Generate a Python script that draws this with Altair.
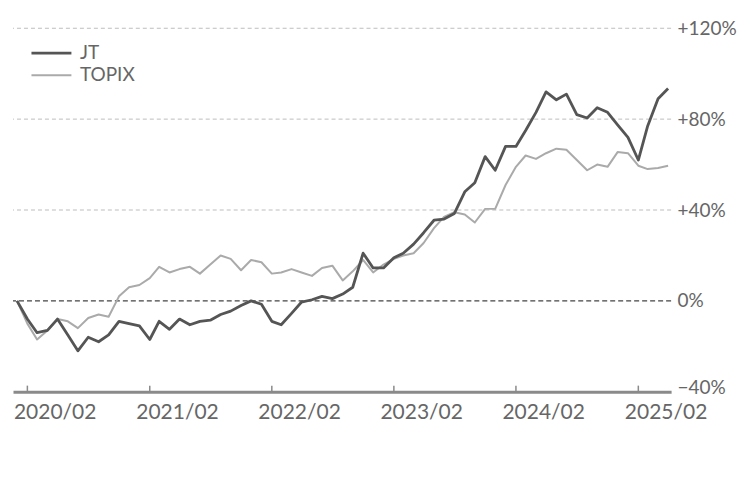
import altair as alt
import pandas as pd

# monthly observations, 2020/01 .. 2025/05
months = pd.date_range("2020-01-01", periods=65, freq="MS").strftime("%Y-%m-%d").tolist()

jt = [0, -8, -14, -13, -8, -15, -22, -16, -18, -15,
      -9, -10, -11, -17, -9, -12.5, -8, -10.5, -9, -8.5,
      -6, -4.5, -2, 0, -1.5, -9, -10.5, -5.5, -0.5, 0.5,
      2, 1, 3, 6, 21, 14.5, 14.5, 19, 21, 25,
      30, 35.5, 36, 38.5, 48, 52, 63.5, 57.5, 68, 68,
      75, 83, 92, 88.5, 91, 82, 80.5, 85, 83, 77.5,
      72, 62, 77, 89, 93.5]

topix = [0, -10, -17, -13, -8, -9, -12, -7.5, -6, -7,
         2, 6, 7, 10, 15, 12.5, 14, 15, 12, 16,
         20, 18.5, 13.5, 18, 17, 12, 12.5, 14, 12.5, 11,
         14.5, 15.5, 9, 13, 18, 12.5, 16, 18.5, 20, 21,
         25.5, 32, 37, 39, 38, 34.5, 40.5, 40.5, 51, 59,
         64, 62.5, 65, 67, 66.5, 62, 57.5, 60, 59, 65.5,
         65, 59.5, 58, 58.5, 59.5]

series_names = ["JT", "TOPIX"]
series_colors = ["#555555", "#aaaaaa"]
series_widths = [2.8, 2.0]
tick_years = [2020, 2021, 2022, 2023, 2024, 2025]
y_tick_values = [-40, 0, 40, 80, 120]
grid_values = [40, 80, 120]

FONT = "Lato"
TEXT = "#666666"

df = pd.DataFrame({
    "month": months * 2,
    "series": ["JT"] * len(jt) + ["TOPIX"] * len(topix),
    "value": jt + topix,
})
grid_df = pd.DataFrame({"value": grid_values})
zero_df = pd.DataFrame({"value": [0]})
tick_df = pd.DataFrame({"month": [f"{y}-02-01" for y in tick_years]})

x_scale = alt.Scale(domain=[alt.DateTime(year=2019, month=12, date=20),
                            alt.DateTime(year=2025, month=5, date=10)])
y_scale = alt.Scale(domain=[-40, 120], nice=False, zero=False)

x_axis = alt.Axis(
    values=[alt.DateTime(year=y, month=2, date=1) for y in tick_years],
    format="%Y/%m", title=None, grid=False, ticks=False,
    domain=True, domainColor="#8a8a8a", domainWidth=3,
    labelAlign="left", labelOffset=-14, labelPadding=10,
    labelFont=FONT, labelFontSize=21, labelColor=TEXT, labelOverlap=False,
    labelFlush=False,
)
y_axis = alt.Axis(
    orient="right", values=y_tick_values, title=None, grid=False,
    ticks=False, domain=False, labelPadding=6,
    labelFont=FONT, labelFontSize=19, labelColor=TEXT, labelAlign="left",
    labelOffset={"condition": {"test": "datum.value == -40", "value": -4}, "value": 0},
    labelExpr="datum.value > 0 ? '+' + datum.value + '%' : (datum.value < 0 ? '\u2212' + abs(datum.value) + '%' : '0%')",
)

grid = alt.Chart(grid_df).mark_rule(color="#bdbdbd", strokeWidth=1, strokeDash=[4, 3]).encode(
    y=alt.Y("value:Q", scale=y_scale, axis=y_axis),
)
zero = alt.Chart(zero_df).mark_rule(color="#444444", strokeWidth=1.3, strokeDash=[5, 3]).encode(
    y=alt.Y("value:Q", scale=y_scale, axis=y_axis),
)
ticks = alt.Chart(tick_df).mark_rule(color="#8a8a8a", strokeWidth=1.5).encode(
    x=alt.X("month:T", scale=x_scale, axis=x_axis),
    y=alt.Y(datum=-40, type="quantitative", scale=y_scale, axis=y_axis),
    y2=alt.datum(-37.3),
)

legend = alt.Legend(
    title=None, orient="none", legendX=17, legendY=14, padding=0,
    symbolType="stroke", symbolSize=1600, labelFont=FONT, labelFontSize=19,
    labelColor=TEXT, labelOffset=7, rowPadding=0, clipHeight=22,
)
color = alt.Color("series:N", scale=alt.Scale(domain=series_names, range=series_colors), legend=legend)
width = alt.StrokeWidth("series:N", scale=alt.Scale(domain=series_names, range=series_widths), legend=legend)

base = alt.Chart(df).mark_line(strokeJoin="round").encode(
    x=alt.X("month:T", scale=x_scale, axis=x_axis),
    y=alt.Y("value:Q", scale=y_scale, axis=y_axis),
    color=color,
    strokeWidth=width,
)
topix_line = base.transform_filter(alt.datum.series == "TOPIX")
jt_line = base.transform_filter(alt.datum.series == "JT")

chart = alt.layer(grid, zero, ticks, topix_line, jt_line).properties(
    width=659, height=364,
    padding={"left": 4, "top": 11, "right": 5, "bottom": 5},
).configure_view(stroke=None)

chart.save("out.html", embed_options={"renderer": "svg", "actions": False})
